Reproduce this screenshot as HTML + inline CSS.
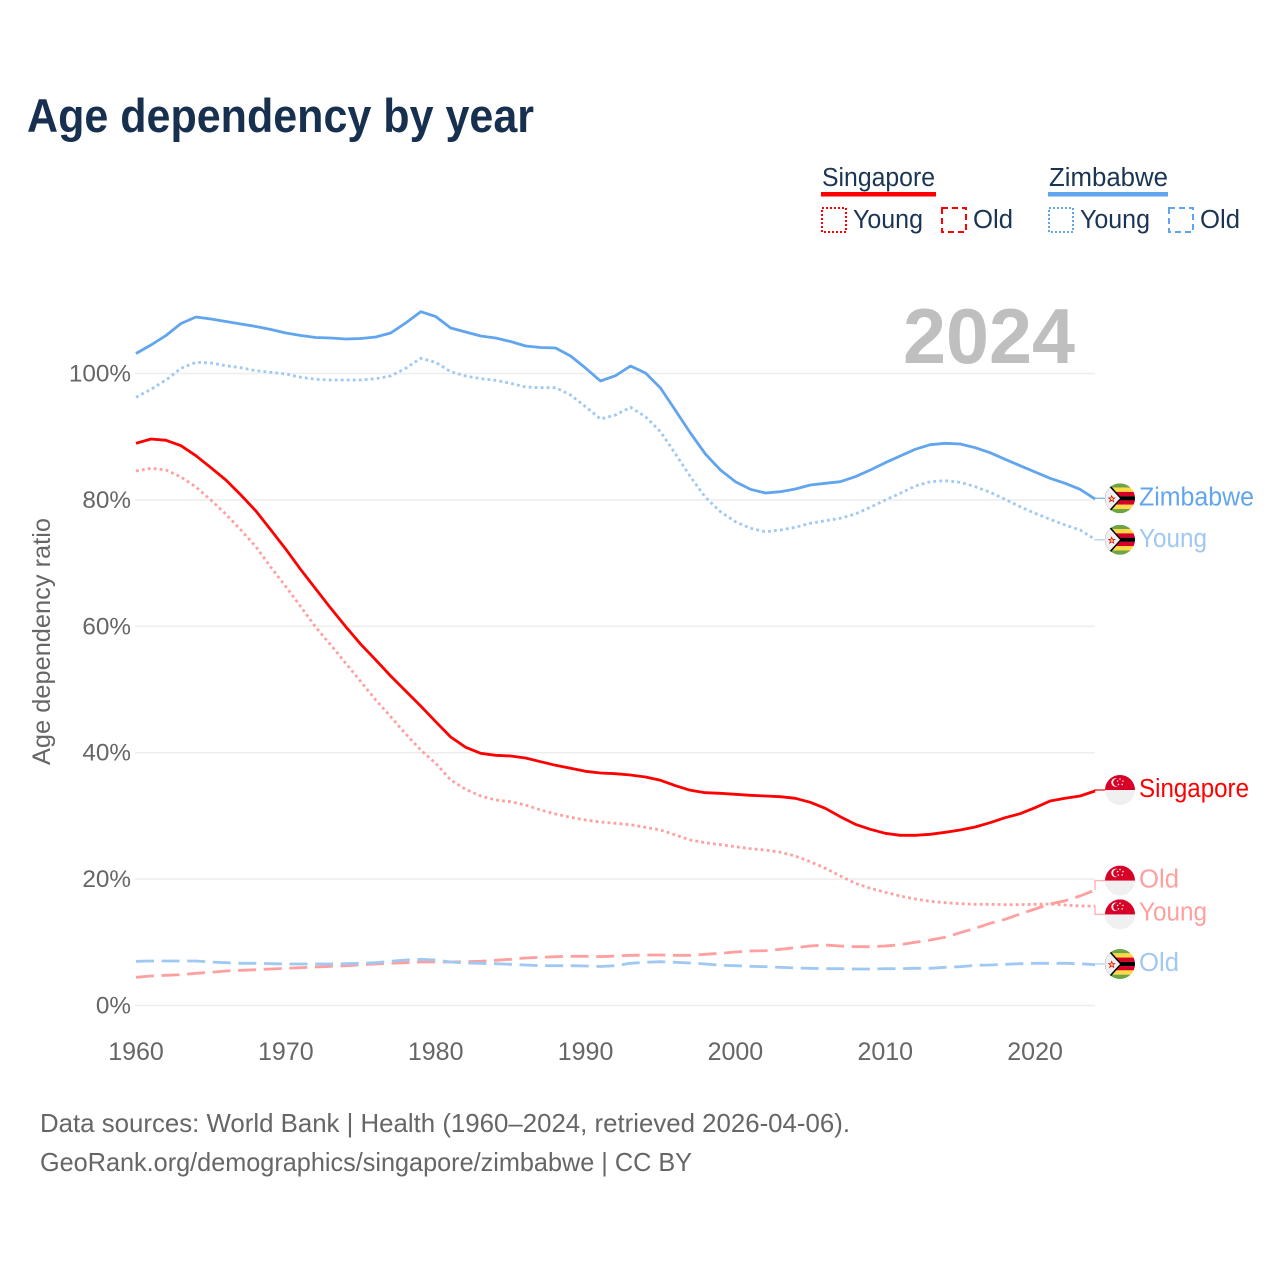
<!DOCTYPE html>
<html lang="en">
<head>
<meta charset="utf-8">
<title>Age dependency by year</title>
<style>
html,body{margin:0;padding:0;background:#fff;}
svg{display:block;font-family:"Liberation Sans",sans-serif;}
</style>
</head>
<body>
<svg id="chart" xmlns="http://www.w3.org/2000/svg" width="1280" height="1280" viewBox="0 0 1280 1280">
  <defs>
    <clipPath id="flag-clip"><circle cx="0" cy="0" r="15"/></clipPath>
    <symbol id="flag-sg" viewBox="-15 -15 30 30" overflow="visible">
      <g clip-path="url(#flag-clip)">
        <rect x="-15" y="-15" width="30" height="30" fill="#f0f0f0"/>
        <rect x="-15" y="-15" width="30" height="15" fill="#d80027"/>
        <circle cx="-4.4" cy="-7.6" r="4.3" fill="#f0f0f0"/>
        <circle cx="-2.9" cy="-7.6" r="3.9" fill="#d80027"/>
        <circle cx="0" cy="-11" r="0.8" fill="#f0f0f0"/>
        <circle cx="3" cy="-9" r="0.8" fill="#f0f0f0"/>
        <circle cx="2.2" cy="-5.6" r="0.8" fill="#f0f0f0"/>
        <circle cx="-1.6" cy="-5.6" r="0.8" fill="#f0f0f0"/>
        <circle cx="-2.4" cy="-9" r="0.8" fill="#f0f0f0"/>
      </g>
    </symbol>
    <symbol id="flag-zw" viewBox="-15 -15 30 30" overflow="visible">
      <g clip-path="url(#flag-clip)">
        <rect x="-15" y="-15" width="30" height="30" fill="#f0f0f0"/>
        <rect x="-15" y="-15" width="30" height="4.3" fill="#6da544"/>
        <rect x="-15" y="-10.7" width="30" height="4.3" fill="#ffda44"/>
        <rect x="-15" y="-6.4" width="30" height="4.3" fill="#d80027"/>
        <rect x="-15" y="-2.1" width="30" height="4.2" fill="#000"/>
        <rect x="-15" y="2.1" width="30" height="4.3" fill="#d80027"/>
        <rect x="-15" y="6.4" width="30" height="4.3" fill="#ffda44"/>
        <rect x="-15" y="10.7" width="30" height="4.3" fill="#6da544"/>
        <path d="M-15,-15 L-10,-13.4 L1.8,0 L-10,13.4 L-15,15 Z" fill="#000"/>
        <path d="M-15,-15 L-11,-12 L0,0 L-11,12 L-15,15 Z" fill="#f0f0f0"/>
        <path d="M-8.3,-2.6 L-7.4,-0.4 L-5.2,-0.4 L-7,1 L-6.3,3.4 L-8.3,2 L-10.3,3.4 L-9.6,1 L-11.4,-0.4 L-9.2,-0.4 Z" fill="#ffda44" stroke="#d80027" stroke-width="0.7"/>
      </g>
    </symbol>
  </defs>

  <text x="27" y="132" font-size="47" font-weight="700" fill="#17304f" textLength="507" lengthAdjust="spacingAndGlyphs">Age dependency by year</text>

  <g>
    <g>
      <text x="822" y="186" font-size="25.5" fill="#1a3554" textLength="113" lengthAdjust="spacingAndGlyphs">Singapore</text>
      <rect x="821" y="192" width="115" height="4.5" fill="#ff0000"/>
      <rect x="822" y="208" width="24" height="24" fill="none" stroke="#ff0000" stroke-width="2" stroke-dasharray="2 2"/>
      <text x="853" y="228" font-size="25.5" fill="#1a3554" textLength="70" lengthAdjust="spacingAndGlyphs">Young</text>
      <rect x="942" y="208" width="24" height="24" fill="none" stroke="#ff0000" stroke-width="2" stroke-dasharray="6 4"/>
      <text x="973" y="228" font-size="25.5" fill="#1a3554" textLength="40" lengthAdjust="spacingAndGlyphs">Old</text>
    </g>
    <g>
      <text x="1049" y="186" font-size="25.5" fill="#1a3554" textLength="119" lengthAdjust="spacingAndGlyphs">Zimbabwe</text>
      <rect x="1048" y="192" width="120" height="4.5" fill="#60a5ee"/>
      <rect x="1049" y="208" width="24" height="24" fill="none" stroke="#60a5ee" stroke-width="2" stroke-dasharray="2 2"/>
      <text x="1080" y="228" font-size="25.5" fill="#1a3554" textLength="70" lengthAdjust="spacingAndGlyphs">Young</text>
      <rect x="1169" y="208" width="24" height="24" fill="none" stroke="#60a5ee" stroke-width="2" stroke-dasharray="6 4"/>
      <text x="1200" y="228" font-size="25.5" fill="#1a3554" textLength="40" lengthAdjust="spacingAndGlyphs">Old</text>
    </g>
  </g>

  <text transform="translate(50,641.5) rotate(-90)" text-anchor="middle" font-size="25" fill="#666666" textLength="247" lengthAdjust="spacingAndGlyphs">Age dependency ratio</text>

  <g id="grid"></g>
  <g id="y-ticks"></g>
  <g id="x-ticks"></g>

  <text x="903" y="363" font-size="78" font-weight="700" fill="#bfbfbf" textLength="172" lengthAdjust="spacingAndGlyphs">2024</text>

  <g id="series"></g>
  <g id="end-labels"></g>

  <g>
    <text x="40" y="1132" font-size="26" fill="#666666" textLength="810" lengthAdjust="spacingAndGlyphs">Data sources: World Bank | Health (1960–2024, retrieved 2026-04-06).</text>
    <text x="40" y="1171" font-size="26" fill="#666666" textLength="652" lengthAdjust="spacingAndGlyphs">GeoRank.org/demographics/singapore/zimbabwe | CC BY</text>
  </g>
</svg>
<script>
const years = [1960,1961,1962,1963,1964,1965,1966,1967,1968,1969,
  1970,1971,1972,1973,1974,1975,1976,1977,1978,1979,
  1980,1981,1982,1983,1984,1985,1986,1987,1988,1989,
  1990,1991,1992,1993,1994,1995,1996,1997,1998,1999,
  2000,2001,2002,2003,2004,2005,2006,2007,2008,2009,
  2010,2011,2012,2013,2014,2015,2016,2017,2018,2019,
  2020,2021,2022,2023,2024];
const singaporeTotal = [88.96,89.64,89.43,88.58,86.99,85.09,83.15,80.77,78.24,75.24,
  72.18,68.95,65.90,62.85,59.94,57.15,54.67,52.14,49.76,47.39,
  44.91,42.48,40.85,39.91,39.59,39.48,39.16,38.58,38.01,37.53,
  37.06,36.79,36.68,36.47,36.15,35.63,34.78,34.05,33.67,33.58,
  33.42,33.26,33.15,33.04,32.78,32.15,31.20,29.87,28.67,27.88,
  27.25,26.93,26.93,27.09,27.41,27.77,28.24,28.92,29.72,30.35,
  31.30,32.36,32.78,33.15,33.94];
const singaporeYoung = [84.57,85.00,84.73,83.62,82.04,79.98,77.72,75.24,72.59,69.34,
  66.27,63.10,59.84,57.04,54.15,51.23,48.34,45.70,42.96,40.43,
  38.32,35.68,34.21,33.15,32.52,32.25,31.72,30.93,30.30,29.78,
  29.35,29.03,28.83,28.61,28.20,27.77,26.98,26.19,25.76,25.44,
  25.13,24.81,24.60,24.24,23.65,22.75,21.71,20.49,19.34,18.54,
  17.91,17.33,16.85,16.49,16.27,16.11,16.01,16.01,15.95,15.95,
  16.01,16.06,15.90,15.74,15.74];
const singaporeOld = [4.46,4.67,4.78,4.87,5.09,5.25,5.46,5.57,5.66,5.78,
  5.89,5.98,6.09,6.20,6.30,6.46,6.57,6.68,6.77,6.88,
  6.88,6.88,6.93,6.99,7.15,7.31,7.52,7.63,7.72,7.78,
  7.78,7.72,7.83,7.94,7.99,7.99,7.94,7.94,8.10,8.26,
  8.47,8.62,8.67,8.89,9.15,9.41,9.57,9.41,9.30,9.30,
  9.41,9.62,10.00,10.36,10.79,11.52,12.22,13.01,13.64,14.48,
  15.27,16.06,16.58,17.33,18.28];
const zimbabweTotal = [103.16,104.51,106.01,107.91,108.94,108.62,108.23,107.83,107.44,106.96,
  106.41,106.01,105.70,105.62,105.46,105.54,105.77,106.41,107.99,109.78,
  109.02,107.20,106.57,105.93,105.62,105.06,104.35,104.11,104.03,102.77,
  100.87,98.81,99.65,101.19,100.08,97.71,94.15,90.59,87.26,84.73,
  82.88,81.68,81.09,81.30,81.72,82.36,82.63,82.88,83.67,84.73,
  85.89,86.95,88.01,88.73,88.96,88.85,88.26,87.47,86.42,85.41,
  84.41,83.42,82.63,81.68,80.14];
const zimbabweYoung = [96.23,97.50,98.97,100.82,101.77,101.66,101.23,100.92,100.44,100.19,
  99.92,99.40,99.08,98.97,98.97,98.97,99.18,99.60,100.82,102.41,
  101.77,100.28,99.60,99.18,98.92,98.45,97.86,97.75,97.75,96.60,
  94.75,92.80,93.43,94.65,93.16,90.79,87.26,83.67,80.41,78.13,
  76.55,75.51,74.97,75.24,75.66,76.30,76.71,77.09,77.77,78.83,
  79.98,81.04,82.20,82.88,83.04,82.78,82.09,81.20,80.09,78.92,
  77.88,76.93,76.03,75.24,73.77];
const zimbabweOld = [6.99,7.04,7.04,7.04,7.04,6.88,6.77,6.68,6.68,6.61,
  6.57,6.57,6.57,6.57,6.61,6.68,6.77,6.99,7.20,7.31,
  7.20,6.88,6.72,6.68,6.61,6.52,6.41,6.30,6.30,6.30,
  6.25,6.17,6.30,6.68,6.84,6.93,6.84,6.72,6.57,6.36,
  6.30,6.20,6.14,6.04,5.93,5.89,5.82,5.82,5.78,5.78,
  5.82,5.82,5.89,5.89,6.04,6.14,6.36,6.41,6.52,6.61,
  6.68,6.68,6.68,6.61,6.46];
const xTickLabels = [1960,1970,1980,1990,2000,2010,2020];
const yTickLabels = [0,20,40,60,80,100];

const NS = 'http://www.w3.org/2000/svg';
function xScale(year){ return 136 + (year - 1960) * 14.985; }
function yScale(v){ return 1005.5 - v * 6.32; }
function svgEl(tag, attrs, parent, text){
  const el = document.createElementNS(NS, tag);
  for (const k in attrs) el.setAttribute(k, attrs[k]);
  if (text !== undefined) el.textContent = text;
  parent.appendChild(el);
  return el;
}
const gridG = document.getElementById('grid');
const yTickG = document.getElementById('y-ticks');
const xTickG = document.getElementById('x-ticks');
const seriesG = document.getElementById('series');
const labelG = document.getElementById('end-labels');

yTickLabels.forEach(function(t){
  const line = svgEl('line', {x1:135, x2:1095, y1:yScale(t), y2:yScale(t), stroke:'#eeeeee', 'stroke-width':1.6}, gridG);
  
  
  const lab = svgEl('text', {x:131, y:yScale(t)+8, 'text-anchor':'end', 'font-size':24.3, fill:'#666666'}, yTickG, t + '%');
  
  
});
xTickLabels.forEach(function(t){
  const lab = svgEl('text', {x:xScale(t), y:1060, 'text-anchor':'middle', 'font-size':25, fill:'#666666'}, xTickG, String(t));
  
  
});

function pathFor(values){
  return values.map(function(v,i){ return (i ? 'L' : 'M') + xScale(years[i]).toFixed(1) + ',' + yScale(v).toFixed(1); }).join(' ');
}
const RED = '#ff0000', RED_L = '#ff9f9f', BLUE = '#60a5ee', BLUE_L = '#9fc8f2';
const DOT = '2.8 3.2', DASH = '18 7.6';

function drawSeries(name, values, color, dash, labelText, flag, labelOffset, labelWidth, lineWidth, textShift){
  const attrs = {d:pathFor(values), fill:'none', stroke:color, 'stroke-width':lineWidth, 'stroke-linejoin':'round'};
  if (dash) attrs['stroke-dasharray'] = dash;
  const line = svgEl('path', attrs, seriesG);
  
  

  const lastY = yScale(values[values.length-1]);
  const ly = lastY + labelOffset;
  const lastX = xScale(years[years.length-1]);
  const conn = svgEl('path', {d:'M'+lastX+','+lastY+' V'+ly+' H1106', fill:'none', stroke:color, 'stroke-width':1.4, opacity:0.8}, seriesG);
  
  

  const f = svgEl('use', {href:'#'+flag, x:1105, y:ly-15, width:30, height:30}, labelG);
  
  
  const t = svgEl('text', {x:1139, y:ly+8+textShift, 'font-size':25.5, fill:color, textLength:labelWidth, lengthAdjust:'spacingAndGlyphs'}, labelG, labelText);
  
  
}
drawSeries('singapore-young', singaporeYoung, RED_L, DOT, 'Young', 'flag-sg', 8.4, 68, 2.8, -2);
drawSeries('singapore-old', singaporeOld, RED_L, DASH, 'Old', 'flag-sg', -9.4, 40, 2.8, -1);
drawSeries('zimbabwe-young', zimbabweYoung, BLUE_L, DOT, 'Young', 'flag-zw', 0.5, 68, 2.8, -1);
drawSeries('zimbabwe-old', zimbabweOld, BLUE_L, DASH, 'Old', 'flag-zw', -0.7, 40, 2.8, -1);
drawSeries('singapore-total', singaporeTotal, RED, '', 'Singapore', 'flag-sg', -1, 110, 2.8, -1);
drawSeries('zimbabwe-total', zimbabweTotal, BLUE, '', 'Zimbabwe', 'flag-zw', -0.7, 115, 2.8, -1);
</script>
</body>
</html>
